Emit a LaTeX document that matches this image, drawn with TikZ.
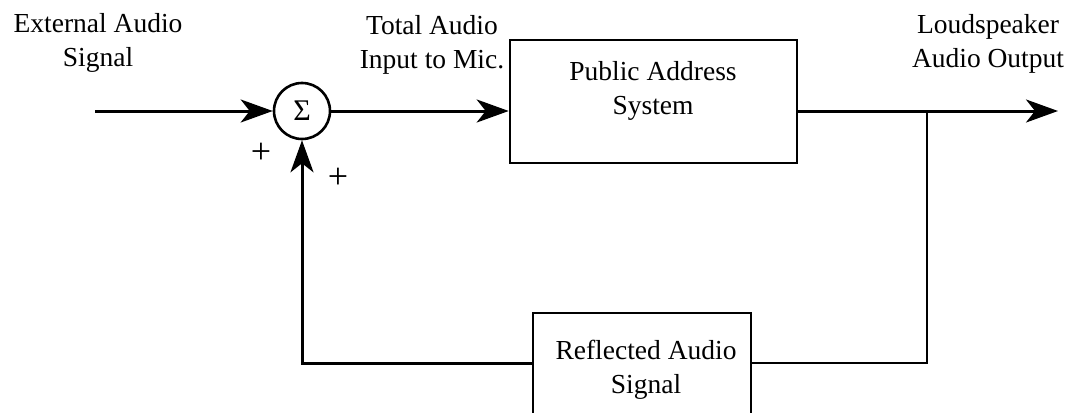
\documentclass[tikz,border=0pt]{standalone}
\usepackage{fontspec}
\setmainfont{Liberation Serif}
\usetikzlibrary{arrows.meta,calc}
\begin{document}
\begin{tikzpicture}[x=1pt,y=-1pt,
  lbl/.style={align=center,font=\fontsize{27.5}{34}\selectfont,inner sep=0pt},
  blk/.style={draw,line width=2.6pt,inner sep=0pt},
  sig/.style={line width=3pt},
  tip/.style={-{Stealth[length=32pt,width=23pt,inset=9pt]}}]
\useasboundingbox (0,0) rectangle (1067,412);
\clip (0,0) rectangle (1067,412);
\fill[white] (0,0) rectangle (1067,412);
% nodes
\node[draw,circle,line width=2.6pt,minimum size=56pt,inner sep=0pt] (sum) at (302,111) {};
\node[inner sep=0pt,font=\fontsize{30}{30}\selectfont] (sumtxt) at (302,111) {Σ};
\node[blk,minimum width=287pt,minimum height=123pt] (pa) at (653.5,101.5) {};
\node[lbl] (patxt) at (653,91) {Public Address\\System};
\node[blk,minimum width=218pt,minimum height=120pt] (rf) at (642,373) {};
\node[lbl] (rftxt) at (646,370) {Reflected Audio\\Signal};
\node[lbl] (ext) at (98,43) {External Audio\\Signal};
\node[lbl] (tot) at (432,45) {Total Audio\\Input to Mic.};
\node[lbl] (ls) at (988,44) {Loudspeaker\\Audio Output};
\node[inner sep=0pt,font=\fontsize{36}{36}\selectfont] (p1) at (261,153) {+};
\node[inner sep=0pt,font=\fontsize{36}{36}\selectfont] (p2) at (338,178) {+};
\coordinate (in) at (95,111);
\coordinate (out) at (1058,111);
\coordinate (j) at (927,111);
\coordinate (jb) at (927,363);
\coordinate (lb) at (302,363);
% connectors
\draw[sig,tip] (in) -- (sum.west);
\draw[sig,tip] (sum.east) -- (sum.east -| pa.west);
\draw[sig,tip] (sum.east -| pa.east) -- (out);
\draw[line width=2.4pt] (j) -- (jb) -- (jb -| rf.east);
\draw[sig,tip] (jb -| rf.west) -- (lb) -- (sum.south);
\end{tikzpicture}
\end{document}
